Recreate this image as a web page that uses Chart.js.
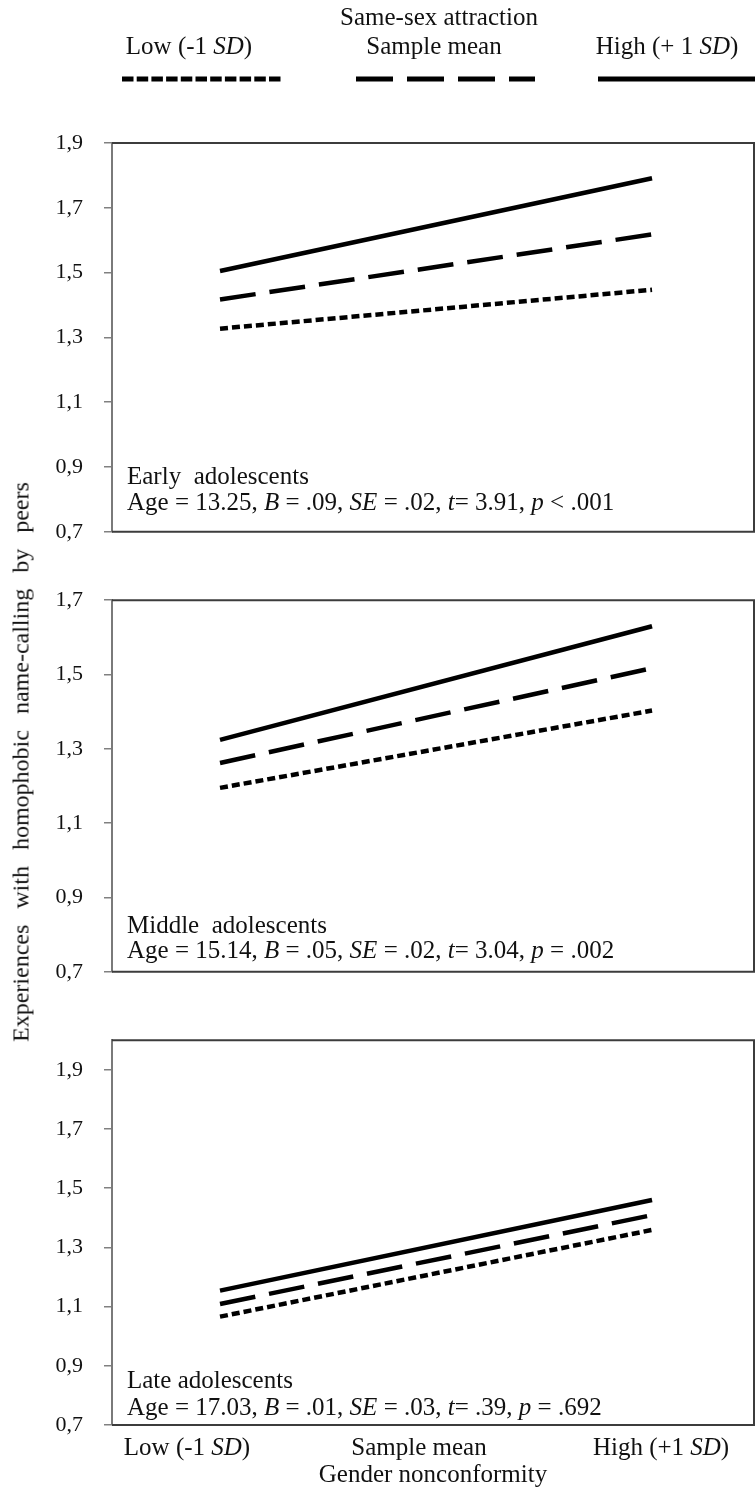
<!DOCTYPE html>
<html>
<head>
<meta charset="utf-8">
<script src="https://cdn.jsdelivr.net/npm/chart.js@4.4.1/dist/chart.umd.min.js"></script>
<style>
  html, body { margin: 0; padding: 0; background: #fff; }
  #page { position: relative; width: 755px; height: 1497px; overflow: hidden;
          font-family: "Liberation Serif", "Times New Roman", serif; color: #111; }
  .pane { position: absolute; left: 0; width: 755px; }
  #ytitle { position: absolute; left: 21px; top: 762px; white-space: nowrap;
            transform: translate(-50%, -50%) rotate(-90deg);
            font-size: 24px; word-spacing: 10px; }
</style>
</head>
<body>
<div id="page">
  <div class="pane" style="top:0;height:566px"><canvas id="early"></canvas></div>
  <div class="pane" style="top:566px;height:440px"><canvas id="middle"></canvas></div>
  <div class="pane" style="top:1006px;height:491px"><canvas id="late"></canvas></div>
  <div id="ytitle"></div>
</div>
<script>
/* data */
const seriesNames = ['Low (-1 SD)', 'Sample mean', 'High (+1 SD)'];
const xPoints = [-1, 1];            // gender nonconformity in SD units
const xTickValues = [-1, 0, 1];
const xTickParts = [
  [['Low (-1 ', false], ['SD', true], [')', false]],
  [['Sample mean', false]],
  [['High (+1 ', false], ['SD', true], [')', false]]
];
const xTitle = 'Gender nonconformity';
const yTitle = 'Experiences with homophobic name-calling by peers';
const legendTitle = 'Same-sex attraction';
const legendParts = [
  [['Low (-1 ', false], ['SD', true], [')', false]],
  [['Sample mean', false]],
  [['High (+ 1 ', false], ['SD', true], [')', false]]
];

const ticksFull = [0.7, 0.9, 1.1, 1.3, 1.5, 1.7, 1.9];
const ticksShort = [0.7, 0.9, 1.1, 1.3, 1.5, 1.7];

const earlyLow = [1.327, 1.447];
const earlyMean = [1.417, 1.618];
const earlyHigh = [1.505, 1.791];
const middleLow = [1.195, 1.403];
const middleMean = [1.262, 1.517];
const middleHigh = [1.324, 1.630];
const lateLow = [1.066, 1.359];
const lateMean = [1.109, 1.409];
const lateHigh = [1.154, 1.460];

const earlyNote = [
  [['Early  adolescents', false]],
  [['Age = 13.25, ', false], ['B', true], [' = .09, ', false], ['SE', true], [' = .02, ', false],
   ['t', true], ['= 3.91, ', false], ['p', true], [' < .001', false]]
];
const middleNote = [
  [['Middle  adolescents', false]],
  [['Age = 15.14, ', false], ['B', true], [' = .05, ', false], ['SE', true], [' = .02, ', false],
   ['t', true], ['= 3.04, ', false], ['p', true], [' = .002', false]]
];
const lateNote = [
  [['Late adolescents', false]],
  [['Age = 17.03, ', false], ['B', true], [' = .01, ', false], ['SE', true], [' = .03, ', false],
   ['t', true], ['= .39, ', false], ['p', true], [' = .692', false]]
];

/* style */
const FONT = '"Liberation Serif", "Times New Roman", serif';
const ink = '#111';
const TXT = 25;
const dashes = [[8, 4], [36, 14], []];

document.getElementById('ytitle').textContent = yTitle;

/* helpers */
const fontOf = (italic, size) => `${italic ? 'italic ' : ''}${size}px ${FONT}`;

const drawRich = (ctx, parts, x, y, size, align) => {
  let w = 0;
  parts.forEach(([t, it]) => { ctx.font = fontOf(it, size); w += ctx.measureText(t).width; });
  let cx = align === 'center' ? x - w / 2 : x;
  ctx.textAlign = 'left';
  ctx.textBaseline = 'middle';
  parts.forEach(([t, it]) => {
    ctx.font = fontOf(it, size);
    ctx.fillText(t, cx, y);
    cx += ctx.measureText(t).width;
  });
};

/* plugins */
const panelFrame = {
  id: 'panelFrame',
  afterDraw(chart, args, o) {
    const { ctx, chartArea: a } = chart;
    ctx.save();
    ctx.strokeStyle = '#3c3c3c';
    ctx.lineWidth = 2;
    ctx.beginPath();
    ctx.moveTo(a.left, a.top); ctx.lineTo(a.right, a.top);
    ctx.lineTo(a.right, a.bottom); ctx.lineTo(a.left, a.bottom);
    ctx.stroke();
    ctx.fillStyle = ink;
    (o.notes || []).forEach((line, i) => drawRich(ctx, line, a.left + 15, a.bottom + o.noteY[i], TXT, 'left'));
    ctx.restore();
  }
};

const topLegend = {
  id: 'topLegend',
  afterDraw(chart, args, o) {
    const ctx = chart.ctx;
    ctx.save();
    ctx.fillStyle = ink;
    drawRich(ctx, [[legendTitle, false]], o.titleX, o.titleY, TXT, 'center');
    chart.data.datasets.forEach((ds, i) => {
      drawRich(ctx, legendParts[i], o.textX[i], o.textY, TXT, 'center');
      ctx.strokeStyle = ds.borderColor;
      ctx.lineWidth = o.lineWidth;
      ctx.lineCap = 'butt';
      ctx.setLineDash(o.dash[i]);
      ctx.beginPath();
      ctx.moveTo(o.lines[i][0], o.lineY);
      ctx.lineTo(o.lines[i][1], o.lineY);
      ctx.stroke();
    });
    ctx.restore();
  }
};

const xCats = {
  id: 'xCats',
  afterDraw(chart, args, o) {
    const { ctx, chartArea: a, scales: { x } } = chart;
    ctx.save();
    ctx.fillStyle = ink;
    xTickValues.forEach((v, i) =>
      drawRich(ctx, xTickParts[i], x.getPixelForValue(v) + o.shift[i], a.bottom + o.tickY, TXT, 'center'));
    drawRich(ctx, [[xTitle, false]], (a.left + a.right) / 2, a.bottom + o.titleY, TXT, 'center');
    ctx.restore();
  }
};

/* charts */
const makePanel = (id, series, yTicks, yMax, padding, pluginOpts, extra) => new Chart(document.getElementById(id), {
  type: 'line',
  data: {
    datasets: series.map((vals, i) => ({
      label: seriesNames[i],
      data: xPoints.map((x, j) => ({ x, y: vals[j] })),
      borderColor: '#000', borderWidth: 4.5, borderDash: dashes[i], borderCapStyle: 'butt',
      pointRadius: 0, fill: false, tension: 0
    }))
  },
  options: {
    responsive: true, maintainAspectRatio: false, animation: false,
    layout: { padding },
    plugins: Object.assign({ legend: { display: false }, tooltip: { enabled: false } }, pluginOpts),
    scales: {
      x: { type: 'linear', display: false, min: -1.5, max: 1.472 },
      y: {
        min: 0.7, max: yMax,
        afterBuildTicks: s => { s.ticks = yTicks.map(v => ({ value: v })); },
        afterFit: s => { s.width = 112; },
        grid: { drawOnChartArea: false, drawTicks: true, tickLength: 8, color: '#808080', lineWidth: 1.5 },
        border: { display: true, color: '#7a7a7a', width: 2 },
        ticks: {
          autoSkip: false, padding: 21, color: ink, font: { family: FONT, size: 22 },
          callback: v => v.toFixed(1).replace('.', ',')
        }
      }
    }
  },
  plugins: [panelFrame, ...extra]
});

makePanel('early', [earlyLow, earlyMean, earlyHigh], ticksFull, 1.9,
  { top: 143, bottom: 25, left: 0, right: 1 },
  {
    panelFrame: { notes: earlyNote, noteY: [-54, -28] },
    topLegend: {
      titleX: 439, titleY: 18, textX: [189, 434, 667], textY: 47,
      lineY: 79, lines: [[122, 283], [356, 535], [598, 755]],
      lineWidth: 5, dash: [[11.5, 3.2], [37, 14], []]
    }
  }, [topLegend]);

makePanel('middle', [middleLow, middleMean, middleHigh], ticksShort, 1.7,
  { top: 21, bottom: 22, left: 0, right: 1 },
  { panelFrame: { notes: middleNote, noteY: [-45, -20] } }, []);

makePanel('late', [lateLow, lateMean, lateHigh], ticksFull, 2.0,
  { top: 22, bottom: 72, left: 0, right: 1 },
  {
    panelFrame: { notes: lateNote, noteY: [-44, -17] },
    xCats: { shift: [-33, -17, 9], tickY: 23, titleY: 50 }
  }, [xCats]);
</script>
</body>
</html>
